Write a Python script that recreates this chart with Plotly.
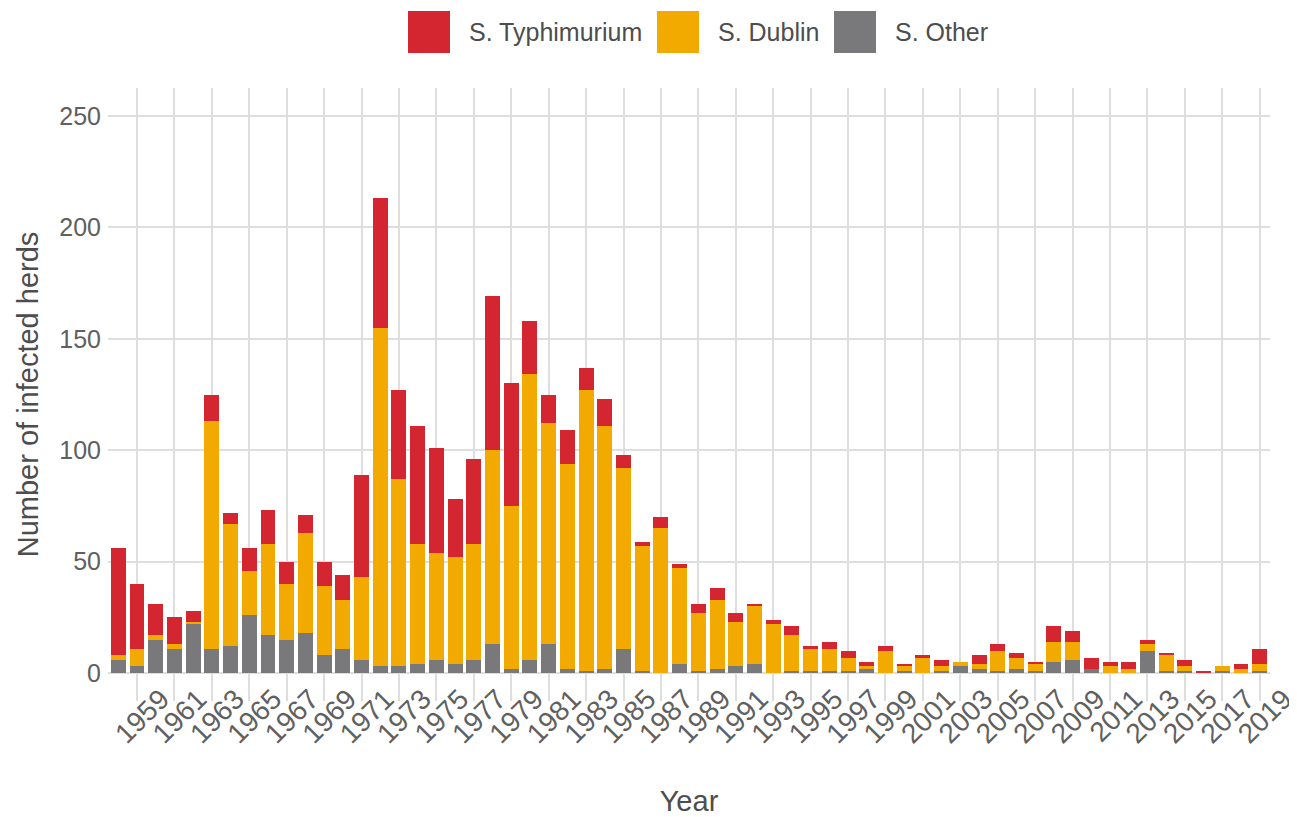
import plotly.graph_objects as go

years = list(range(1958, 2020))

typhimurium = [48, 29, 14, 12, 5, 12, 5, 10, 15, 10, 8, 11, 11, 46, 58, 40,
               53, 47, 26, 38, 69, 55, 24, 13, 15, 10, 12, 6, 2, 5, 2, 4,
               5, 4, 1, 2, 4, 1, 3, 3, 2, 2, 1, 1, 3, 0, 4, 3,
               2, 1, 7, 5, 5, 2, 3, 2, 1, 3, 1, 0, 2, 7]
dublin = [2, 8, 2, 2, 1, 102, 55, 20, 41, 25, 45, 31, 22, 37, 152, 84,
          54, 48, 48, 52, 87, 73, 128, 99, 92, 126, 109, 81, 56, 65, 43, 26,
          31, 20, 26, 22, 16, 10, 10, 6, 1, 10, 2, 7, 2, 2, 2, 9,
          5, 3, 9, 8, 0, 3, 2, 3, 7, 2, 0, 2, 2, 3]
other = [6, 3, 15, 11, 22, 11, 12, 26, 17, 15, 18, 8, 11, 6, 3, 3,
         4, 6, 4, 6, 13, 2, 6, 13, 2, 1, 2, 11, 1, 0, 4, 1,
         2, 3, 4, 0, 1, 1, 1, 1, 2, 0, 1, 0, 1, 3, 2, 1,
         2, 1, 5, 6, 2, 0, 0, 10, 1, 1, 0, 1, 0, 1]

tick_years = list(range(1959, 2020, 2))
tick_labels = [str(y) for y in tick_years]
y_ticks = [0, 50, 100, 150, 200, 250]

series_names = ["S. Typhimurium", "S. Dublin", "S. Other"]
series_colors = ["#D42631", "#F2A900", "#79797B"]
series_values = [typhimurium, dublin, other]

FONT = "Liberation Sans, Arial, Helvetica, sans-serif"
TICK_COLOR = "#606060"
TITLE_COLOR = "#4D4D4D"
GRID = "#DEDEDE"

# page offset (browser body margin) and figure geometry
W, H = 1289, 809
ML, MR, MT, MB = 100, 27, 80, 116
PW, PH = W - ML - MR, H - MT - MB

fig = go.Figure()
# stack bottom -> top: Other, Dublin, Typhimurium
for name, vals, color in reversed(list(zip(series_names, series_values, series_colors))):
    fig.add_trace(go.Bar(
        x=years, y=vals, name=name,
        marker=dict(color=color, line=dict(width=0)),
        width=0.8, showlegend=False,
    ))

# legend drawn as large square keys + labels above the plot (page pixel layout)
legend_keys_x = [408, 657, 834]
legend_text_x = [467, 716, 893]
key_top, key_bottom, text_mid = 11, 53, 32


def px_to_paper_x(px):
    return (px - 8 - ML) / PW


def px_to_paper_y(py):
    return (H - MB - (py - 8)) / PH


for name, color, kx, tx in zip(series_names, series_colors, legend_keys_x, legend_text_x):
    fig.add_shape(
        type="rect", xref="paper", yref="paper",
        x0=px_to_paper_x(kx), x1=px_to_paper_x(kx + 42),
        y0=px_to_paper_y(key_bottom), y1=px_to_paper_y(key_top),
        fillcolor=color, line=dict(width=0),
    )
    fig.add_annotation(
        text=name, xref="paper", yref="paper",
        x=px_to_paper_x(tx), y=px_to_paper_y(text_mid),
        xanchor="left", yanchor="middle", showarrow=False,
        font=dict(size=25, color=TITLE_COLOR, family=FONT),
    )

fig.update_layout(
    barmode="stack",
    width=W, height=H,
    paper_bgcolor="white", plot_bgcolor="white",
    margin=dict(l=ML, r=MR, t=MT, b=MB),
    font=dict(family=FONT, color=TITLE_COLOR),
    showlegend=False,
)

fig.update_xaxes(
    range=[1957.45, 2019.55],
    tickmode="array", tickvals=tick_years, ticktext=tick_labels,
    tickangle=-45, tickfont=dict(size=28, color=TICK_COLOR),
    ticks="",
    ticklabelshift=24, ticklabelstandoff=-25, ticklabeloverflow="allow",
    showgrid=True, gridcolor=GRID, gridwidth=1.5,
    zeroline=False, showline=False,
    title=dict(text="Year", font=dict(size=29, color=TITLE_COLOR), standoff=45),
    automargin=False,
)
fig.update_yaxes(
    range=[-12.5, 262.5],
    tickmode="array", tickvals=y_ticks, ticktext=[str(v) for v in y_ticks],
    tickfont=dict(size=25, color=TICK_COLOR),
    ticklabelstandoff=6,
    showgrid=True, gridcolor=GRID, gridwidth=1.5,
    zeroline=False, showline=False,
    title=dict(text="Number of infected herds", font=dict(size=29, color=TITLE_COLOR), standoff=12),
    automargin=False,
)

fig.write_html("out.html")
